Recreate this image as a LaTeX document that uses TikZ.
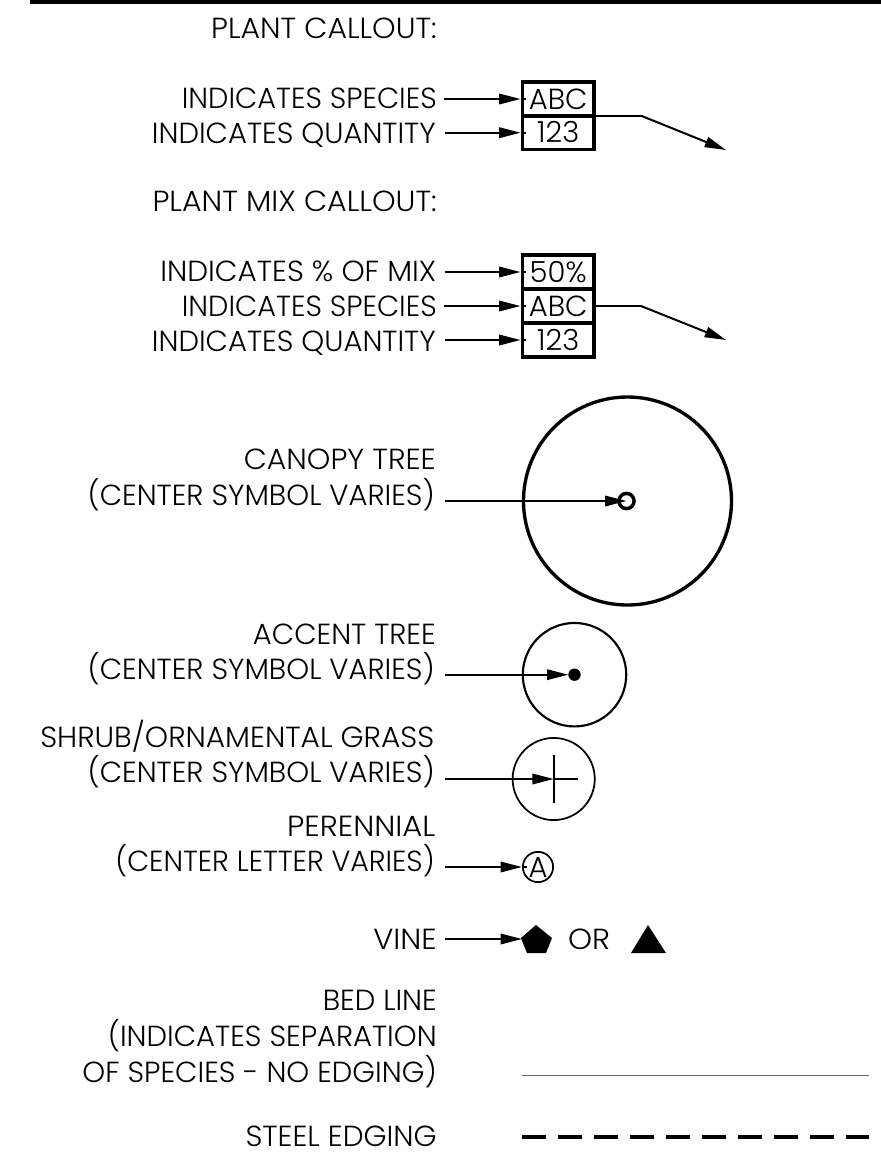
\documentclass[tikz,border=0pt]{standalone}
\usepackage{graphicx}
\usepackage{fontspec}
\setmainfont{Poppins Light}
\usetikzlibrary{arrows.meta}
\newcommand{\txtsize}{\fontsize{21.8pt}{24pt}\selectfont}
\newcommand{\hs}[2]{\scalebox{#1}[1]{#2}}
\tikzset{
  x=0.75pt,y=-0.75pt,
  lbl/.style={anchor=east,inner sep=0pt,text height=15pt,text depth=0pt,font=\txtsize},
  conn/.style={line width=1.5pt,-{Triangle[length=16pt,width=7.8pt]}},
  wire/.style={line width=1.5pt},
  cell/.style={draw,line width=2.9pt,minimum width=53.6pt,minimum height=25.2pt,inner sep=0pt,text height=15pt,text depth=0pt,font=\txtsize},
  ring/.style={draw,circle,inner sep=0pt},
}
\begin{document}
\begin{tikzpicture}
\useasboundingbox (0,0) rectangle (881,1154);
\fill[black] (30,0) rectangle (881,4);
% plant callout
\node[lbl] (h1) at (437,28) {\hs{1.03}{PLANT CALLOUT:}};
\node[lbl] (s1) at (437,98.5) {\hs{0.99}{INDICATES SPECIES}};
\node[lbl] (q1) at (436,133) {INDICATES QUANTITY};
\node[cell] (b1a) at (558.2,99) {ABC};
\node[cell] (b1b) at (558.2,132.7) {123};
\coordinate (k1) at (641,115.7);
\coordinate (e1) at (726,150);
\draw[wire] (b1a.east |- k1) -- (k1);
\draw[conn] (k1) -- (e1);
\draw[conn] (s1.east |- b1a.west) ++(7,0) -- (b1a.west);
\draw[conn] (q1.east |- b1b.west) ++(9,0) -- (b1b.west);
\draw[wire] (b1a.west) -- ++(5,0);
\draw[wire] (b1b.west) -- ++(5,0);
% mix callout
\node[lbl] (h2) at (437,201.7) {\hs{1.033}{PLANT MIX CALLOUT:}};
\node[lbl] (p2) at (436.5,271.7) {\hs{1.015}{INDICATES \% OF MIX}};
\node[lbl] (s2) at (437,306.7) {\hs{0.99}{INDICATES SPECIES}};
\node[lbl] (q2) at (436,341.7) {INDICATES QUANTITY};
\node[cell] (b2p) at (558.2,272) {50\%};
\node[cell] (b2a) at (558.2,306) {ABC};
\node[cell] (b2b) at (558.2,340) {123};
\coordinate (k2) at (641,306);
\coordinate (e2) at (726,340);
\draw[wire] (b2a.east) -- (k2);
\draw[conn] (k2) -- (e2);
\draw[conn] (p2.east |- b2p.west) ++(8,0) -- (b2p.west);
\draw[conn] (s2.east |- b2a.west) ++(7,0) -- (b2a.west);
\draw[conn] (q2.east |- b2b.west) ++(9,0) -- (b2b.west);
\draw[wire] (b2p.west) -- ++(5,0);
\draw[wire] (b2a.west) -- ++(5,0);
\draw[wire] (b2b.west) -- ++(5,0);
% canopy tree
\node[lbl] at (436,459) {\hs{1.03}{CANOPY TREE}};
\node[lbl] (t1) at (435,495) {(CENTER SYMBOL VARIES)};
\node[ring,line width=2.5pt,minimum size=156pt] (c1) at (627.5,501) {};
\node[ring,line width=2.6pt,minimum size=11.4pt] (c1c) at (626.5,501) {};
\draw[conn] (t1.east |- c1c.center) ++(10,0) -- (c1c.center);
% accent tree
\node[lbl] at (436,634) {ACCENT TREE};
\node[lbl] (t2) at (435,669) {(CENTER SYMBOL VARIES)};
\node[ring,line width=1.6pt,minimum size=77.6pt] (c2) at (574.5,674.7) {};
\node[ring,fill=black,minimum size=8.8pt] (c2c) at (574.5,674.7) {};
\draw[conn] (t2.east |- c2c.west) ++(10,0) -- (c2c.west);
% shrub
\node[lbl] at (434.5,737.7) {\hs{1.018}{SHRUB/ORNAMENTAL GRASS}};
\node[lbl] (t3) at (435,772.7) {(CENTER SYMBOL VARIES)};
\node[ring,line width=1.3pt,minimum size=61.6pt] (c3) at (553.7,779) {};
\coordinate (c3c) at (553.7,779);
\coordinate (c3e) at (577.5,779);
\coordinate (c3n) at (553.7,755);
\coordinate (c3s) at (553.7,802.5);
\draw[line width=1.3pt] (c3n) -- (c3s);
\draw[line width=1.5pt] (c3c) -- (c3e);
\draw[conn] (t3.east |- c3c) ++(10,0) -- (c3c);
% perennial
\node[lbl] at (435.6,826) {\hs{1.055}{PERENNIAL}};
\node[lbl] (t4) at (435,861.7) {\hs{0.98}{(CENTER LETTER VARIES)}};
\node[ring,line width=1.3pt,minimum size=22.7pt,text height=15pt,text depth=0pt,font=\txtsize] (c4) at (538,867) {A};
\draw[conn] (t4.east |- c4.west) ++(10,0) -- (c4.west);
\draw[wire] (c4.west) -- ++(5,0);
% vine
\node[lbl] (v) at (437,939) {\hs{1.05}{VINE}};
\coordinate (pg) at (522,939);
\draw[conn] (v.east) ++(8,0) -- (pg);
\fill[black] (536,925) -- (552,938) -- (546,953) -- (527,953) -- (521,938) -- cycle;
\node[lbl,anchor=center] (or) at (589,939) {\hs{1.05}{OR}};
\fill[black] (648,925) -- (666,953) -- (631,953) -- cycle;
% bed line
\node[lbl] at (437,1000) {BED LINE};
\node[lbl] at (437,1036) {(INDICATES SEPARATION};
\node[lbl] at (437,1072) {OF SPECIES - NO EDGING)};
\coordinate (bedA) at (522,1075.7);
\coordinate (bedB) at (869,1075.7);
\draw[line width=1.1pt,black!60] (bedA) -- (bedB);
% steel edging
\node[lbl] at (437,1136) {\hs{1.015}{STEEL EDGING}};
\coordinate (edgeA) at (522,1137);
\coordinate (edgeB) at (869,1137);
\draw[line width=2.6pt,dash pattern=on 17.8pt off 9.2pt] (edgeA) -- (edgeB);
\end{tikzpicture}
\end{document}
